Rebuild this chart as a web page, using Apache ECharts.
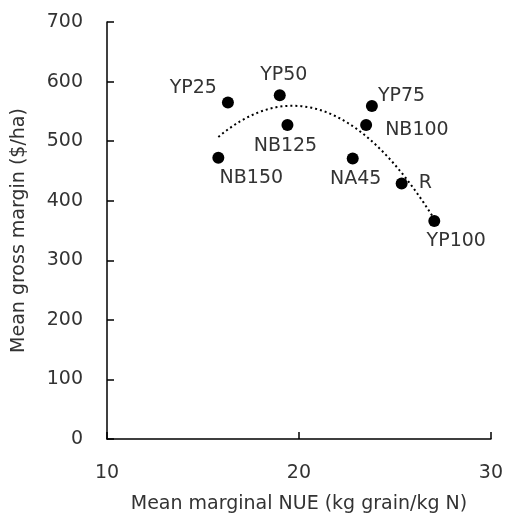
<!DOCTYPE html>
<html>
<head>
<meta charset="utf-8">
<script src="https://cdn.jsdelivr.net/npm/echarts@6/dist/echarts.min.js"></script>
<style>
  html, body { margin: 0; padding: 0; background: #fff; }
  #chart { width: 506px; height: 519px; }
</style>
</head>
<body>
<div id="chart"></div>
<script>
// treatment names and their read-off values
const names = ['YP25', 'YP50', 'YP75', 'NB100', 'NB125', 'NB150', 'NA45', 'R', 'YP100'];
const nueValues = [16.3, 19.0, 23.8, 23.5, 19.4, 15.8, 22.8, 25.35, 27.05];
const marginValues = [565, 577, 559, 527, 527, 472, 471, 429, 366];

const xTicks = [10, 20, 30];
const yTicks = [0, 100, 200, 300, 400, 500, 600, 700];

// label placement per point (style only)
const labelPlacement = {
  YP25: { position: 'left', offset: [0, -14] },
  YP50: { position: 'top', offset: [4, 0] },
  YP75: { position: 'right', offset: [-5, -10] },
  NB100: { position: 'right', offset: [8, 5] },
  NB125: { position: 'bottom', offset: [-2, 1] },
  NB150: { position: 'bottom', offset: [33, 0] },
  NA45: { position: 'bottom', offset: [3, 0] },
  R: { position: 'right', offset: [6, 0] },
  YP100: { position: 'bottom', offset: [22, 0] }
};

// least-squares quadratic trendline (like the spreadsheet's poly-2 trend)
function quadFit(xs, ys) {
  let s = [0, 0, 0, 0, 0], t = [0, 0, 0];
  xs.forEach((x, i) => {
    let p = 1;
    for (let k = 0; k < 5; k++) { s[k] += p; if (k < 3) t[k] += p * ys[i]; p *= x; }
  });
  const m = [[s[0], s[1], s[2], t[0]], [s[1], s[2], s[3], t[1]], [s[2], s[3], s[4], t[2]]];
  for (let i = 0; i < 3; i++) {
    for (let j = i + 1; j < 3; j++) {
      const f = m[j][i] / m[i][i];
      for (let k = i; k < 4; k++) m[j][k] -= f * m[i][k];
    }
  }
  const c = [0, 0, 0];
  for (let i = 2; i >= 0; i--) {
    let v = m[i][3];
    for (let k = i + 1; k < 3; k++) v -= m[i][k] * c[k];
    c[i] = v / m[i][i];
  }
  return c;
}

const coef = quadFit(nueValues, marginValues);
const xMin = Math.min(...nueValues), xMax = Math.max(...nueValues);
const trend = [];
for (let i = 0; i <= 60; i++) {
  const x = xMin + (xMax - xMin) * i / 60;
  trend.push([x, coef[0] + coef[1] * x + coef[2] * x * x]);
}

const points = names.map((n, i) => ({
  name: n,
  value: [nueValues[i], marginValues[i]],
  label: labelPlacement[n]
}));

const font = '"DejaVu Sans", sans-serif';
const textColor = '#333';
const chart = echarts.init(document.getElementById('chart'));
chart.setOption({
  backgroundColor: '#fff',
  animation: false,
  grid: { left: 107, right: 13, top: 22, bottom: 78 },
  xAxis: {
    type: 'value', min: xTicks[0], max: xTicks[xTicks.length - 1], interval: 10,
    name: 'Mean marginal NUE (kg grain/kg N)', nameLocation: 'middle', nameGap: 56,
    nameTextStyle: { fontFamily: font, fontSize: 19, color: textColor },
    axisLine: { lineStyle: { color: '#000', width: 1.5 } },
    axisTick: { inside: true, length: 7, lineStyle: { color: '#000', width: 1.5 } },
    axisLabel: { fontFamily: font, fontSize: 19, color: textColor, margin: 25 },
    splitLine: { show: false }
  },
  yAxis: {
    type: 'value', min: yTicks[0], max: yTicks[yTicks.length - 1], interval: 100,
    name: 'Mean gross margin ($/ha)', nameLocation: 'middle', nameGap: 78,
    nameTextStyle: { fontFamily: font, fontSize: 19, color: textColor },
    axisLine: { show: true, lineStyle: { color: '#000', width: 1.5 } },
    axisTick: { show: true, inside: true, length: 7, lineStyle: { color: '#000', width: 1.5 } },
    axisLabel: { fontFamily: font, fontSize: 19, color: textColor, margin: 24 },
    splitLine: { show: false }
  },
  series: [
    {
      type: 'line', data: trend, showSymbol: false, smooth: false,
      lineStyle: { color: '#000', width: 2, type: [2, 3] }, z: 1, silent: true
    },
    {
      type: 'scatter', data: points, symbolSize: 12,
      itemStyle: { color: '#000', opacity: 1 },
      label: {
        show: true, formatter: '{b}', fontFamily: font, fontSize: 19, color: textColor
      },
      z: 2
    }
  ]
});
</script>
</body>
</html>
